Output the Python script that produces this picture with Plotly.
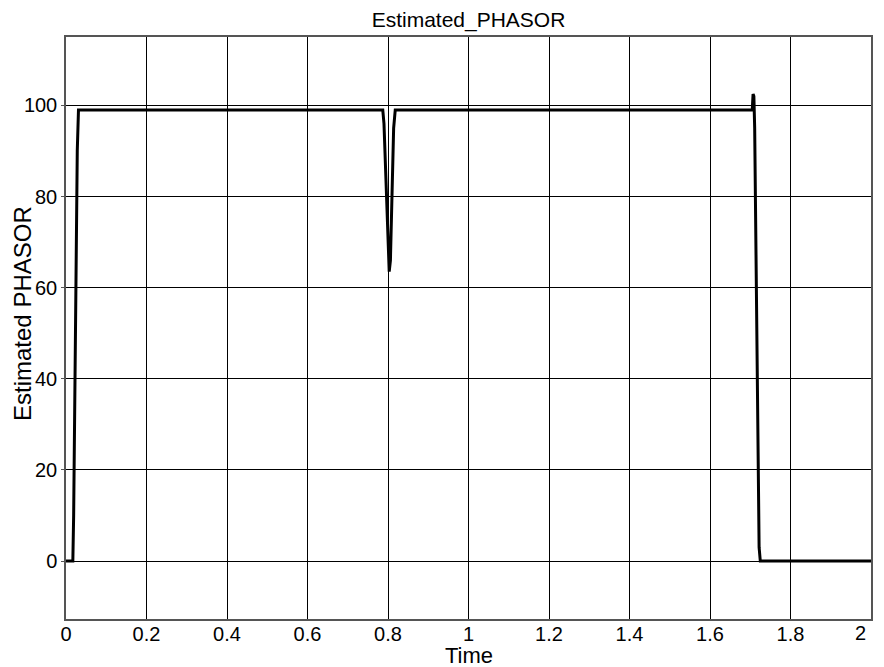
import plotly.graph_objects as go

time = [0, 0.017, 0.019, 0.024, 0.028, 0.031,
        0.787, 0.790, 0.795, 0.800, 0.803, 0.806, 0.810, 0.814, 0.818,
        1.705, 1.707, 1.709, 1.711, 1.714, 1.718, 1.722, 1.725, 2.0]
phasor = [0, 0, 10, 60, 90, 99,
          99, 96, 84, 68, 63.5, 66, 80, 95, 99,
          99, 102.5, 102, 95, 70, 30, 3, 0, 0]

x_ticks = [0, 0.2, 0.4, 0.6, 0.8, 1, 1.2, 1.4, 1.6, 1.8, 2]
x_labels = ["0", "0.2", "0.4", "0.6", "0.8", "1", "1.2", "1.4", "1.6", "1.8", ""]
last_label = "2"
y_ticks = [0, 20, 40, 60, 80, 100]

W, H = 884, 667
L, R, T, B = 66, 13, 37, 48
pw, ph = W - L - R, H - T - B

fig = go.Figure()
fig.add_trace(go.Scatter(x=time, y=phasor, mode="lines",
                         line=dict(color="black", width=3), showlegend=False))

font = "Liberation Sans, Arial, sans-serif"
# last x tick label kept inside the figure
fig.add_annotation(x=x_ticks[-1], y=-14 / ph, xref="x", yref="paper", text=last_label,
                   showarrow=False, xanchor="right", yanchor="middle",
                   xshift=-3, font=dict(size=20, family=font, color="black"))
# axis titles
fig.add_annotation(x=0.5, y=-36 / ph, xref="paper", yref="paper", text="Time",
                   showarrow=False, xanchor="center", yanchor="middle",
                   font=dict(size=22, family=font, color="black"))
fig.add_annotation(x=-44 / pw, y=(H - B - 314) / ph, xref="paper", yref="paper",
                   text="Estimated PHASOR", textangle=-90,
                   showarrow=False, xanchor="center", yanchor="middle",
                   font=dict(size=24, family=font, color="black"))
fig.update_layout(
    width=W, height=H,
    margin=dict(l=L, r=R, t=T, b=B),
    paper_bgcolor="white", plot_bgcolor="white",
    font=dict(family=font, color="black", size=20),
    title=dict(text="Estimated_PHASOR", x=0.5, xref="paper", xanchor="center",
               y=1 - 20 / H, yref="container", yanchor="middle",
               font=dict(size=21, family=font, color="black")),
    xaxis=dict(range=[0, 2], tickvals=x_ticks, ticktext=x_labels,
               showgrid=True, gridcolor="black", gridwidth=1, automargin=False,
               zeroline=False, showline=True, linecolor="#555", linewidth=1.5,
               mirror=True, ticks="", tickfont=dict(size=20), ticklabelstandoff=-4),
    yaxis=dict(range=[-12.7, 115], tickvals=y_ticks, automargin=False,
               showgrid=True, gridcolor="black", gridwidth=1,
               zeroline=False, showline=True, linecolor="#555", linewidth=1.5,
               mirror=True, ticks="outside", ticklen=3, tickcolor="#555",
               tickfont=dict(size=20)),
)
fig.write_html("out.html", config={"displayModeBar": False},
               post_script="document.body.style.margin='0';document.body.style.padding='0';")
